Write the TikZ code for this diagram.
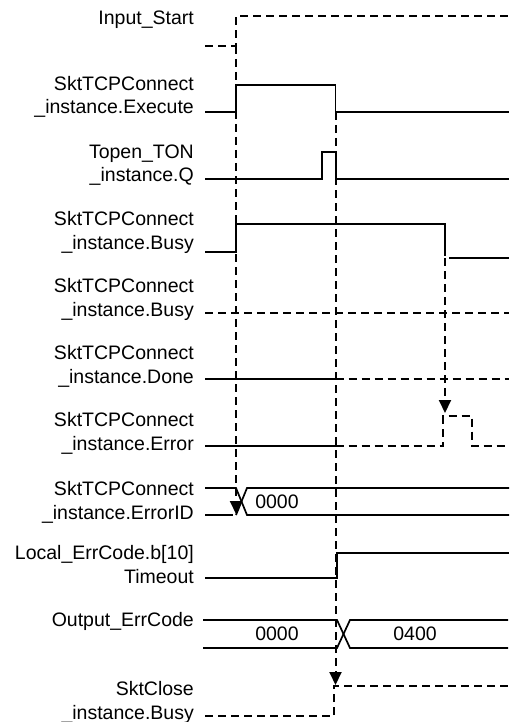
\documentclass[tikz,border=0pt]{standalone}
\usepackage{fontspec}
\setmainfont{Liberation Sans}
\usetikzlibrary{arrows.meta,positioning}
\tikzset{
  >={Triangle[length=13pt,width=12pt]},
  sig/.style={line width=1.7pt,line join=miter},
  sigdash/.style={line width=1.7pt,dash pattern=on 8pt off 5pt},
  trig/.style={->,line width=2pt,dash pattern=on 8pt off 5pt,shorten >=0pt},
  siglbl/.style={font=\fontsize{19.5}{23.5}\selectfont,align=right,
    anchor=base east,inner sep=0pt},
  vallbl/.style={font=\fontsize{19.5}{23.5}\selectfont,inner sep=0pt},
}
\begin{document}
\begin{tikzpicture}[x=1pt,y=-1pt]
  \useasboundingbox (0,0) rectangle (509,722);
  \node[siglbl] (lInput) at (194,25) {Input\_Start};
  \node[siglbl] (lExec) at (194,114) {SktTCPConnect\\\_instance.Execute};
  \node[siglbl] (lTon) at (194,182) {Topen\_TON\\\_instance.Q};
  \node[siglbl] (lBusyA) at (194,249) {SktTCPConnect\\\_instance.Busy};
  \node[siglbl] (lBusyB) at (194,316) {SktTCPConnect\\\_instance.Busy};
  \node[siglbl] (lDone) at (194,383) {SktTCPConnect\\\_instance.Done};
  \node[siglbl] (lErr) at (194,450) {SktTCPConnect\\\_instance.Error};
  \node[siglbl] (lErrId) at (194,519) {SktTCPConnect\\\_instance.ErrorID};
  \node[siglbl] (lTout) at (194,583) {Local\_ErrCode.b[10]\\Timeout};
  \node[siglbl] (lOut) at (194,626) {Output\_ErrCode};
  \node[siglbl] (lClose) at (194,719) {SktClose\\\_instance.Busy};

  \draw[sigdash] (205,46) -| (236,16) -- (509,16);
  \draw[sig] (205,112) -| (236,85) -| (335.5,112) -- (509,112);
  \draw[sig] (205,179) -| (322,152) -| (336,179) -- (509,179);
  \draw[sig] (205,252) -| (236,224) -| (445,256);
  \draw[sig] (449,258) -- (509,258);
  \draw[sigdash] (205,313) -- (509,313);
  \draw[sig] (205,379) -- (335.5,379);
  \draw[sigdash] (335.5,379) -- (509,379);
  \draw[sig] (205,446) -- (335.5,446);
  \draw[sigdash] (335.5,446) -| (443,416) -| (472,446) -- (509,446);
  \draw[sig] (205,488) -- (236,488) -- (247,515) -- (509,515);
  \draw[sig] (205,515) -- (233,515);
  \draw[sig] (236,515) -- (247,488) -- (509,488);
  \node[vallbl] (vErrId) at (277,502) {0000};
  \draw[sig] (205,578) -| (337,553) -- (509,553);
  \draw[sig] (203,620) -- (337,620) -- (350,648) -- (508,648);
  \draw[sig] (203,648) -- (337,648) -- (350,620) -- (508,620);
  \node[vallbl] (vOutA) at (277,634) {0000};
  \node[vallbl] (vOutB) at (415,634) {0400};
  \draw[sigdash] (205,716) -| (334,686) -- (509,686);

  \coordinate (startIn) at (236,46);
  \coordinate (hitErrId) at (236,514);
  \coordinate (startExec) at (335.5,112);
  \coordinate (hitClose) at (335.5,685);
  \coordinate (startBusy) at (445,258);
  \coordinate (hitErr) at (445,413);
  \draw[trig] (startIn) -- (hitErrId);
  \draw[trig] (startExec) -- (hitClose);
  \draw[trig] (startBusy) -- (hitErr);
\end{tikzpicture}
\end{document}
